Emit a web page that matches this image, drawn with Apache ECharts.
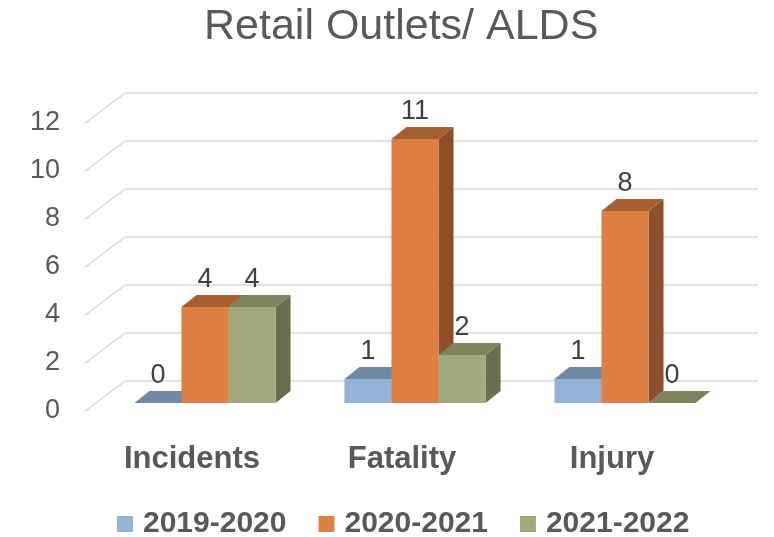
<!DOCTYPE html>
<html>
<head>
<meta charset="utf-8">
<script src="https://cdn.jsdelivr.net/npm/echarts@6/dist/echarts.min.js"></script>
<style>
  html, body { margin: 0; padding: 0; background: #fff; }
  #main { width: 774px; height: 537px; }
</style>
</head>
<body>
<div id="main"></div>
<script>
var categories = ['Incidents', 'Fatality', 'Injury'];
var seriesNames = ['2019-2020', '2020-2021', '2021-2022'];
var values2019 = [0, 1, 1];
var values2020 = [4, 11, 8];
var values2021 = [4, 2, 0];
var yTicks = [0, 2, 4, 6, 8, 10, 12];

(function () {
    'use strict';

    var textColor = '#595959';
    var font = '"Liberation Sans", Arial, sans-serif';
    // front, top, side faces
    var faces = [
        ['#95b3d7', '#6e8aa4', '#5f7891'],
        ['#de8044', '#a6602f', '#8c4f29'],
        ['#a4a97c', '#7f845f', '#6a6e50']
    ];
    var allValues = [values2019, values2020, values2021];
    var depthX = 15, depthY = -12;

    function barRenderer(idx) {
        return function (params, api) {
            var cat = api.value(0);
            var val = api.value(1);
            var base = api.coord([cat, 0]);
            var top = api.coord([cat, val]);
            var band = api.size([1, 0])[0];
            var bw = band * 0.224;
            var x0 = base[0] - 1.5 * bw + idx * bw;
            var x1 = x0 + bw;
            var y0 = base[1], y1 = top[1];
            var c = faces[idx];
            return {
                type: 'group',
                children: [
                    {
                        type: 'polygon',
                        shape: { points: [[x1, y0], [x1 + depthX, y0 + depthY], [x1 + depthX, y1 + depthY], [x1, y1]] },
                        style: { fill: c[2] }
                    },
                    {
                        type: 'rect',
                        shape: { x: x0, y: y1, width: bw, height: y0 - y1 },
                        style: { fill: c[0] }
                    },
                    {
                        type: 'polygon',
                        shape: { points: [[x0, y1], [x1, y1], [x1 + depthX, y1 + depthY], [x0 + depthX, y1 + depthY]] },
                        style: { fill: c[1] }
                    },
                    {
                        type: 'text',
                        style: {
                            text: String(val),
                            x: (x0 + x1) / 2,
                            y: y1 - 27,
                            align: 'center',
                            verticalAlign: 'middle',
                            fill: '#404040',
                            font: '27px ' + font
                        }
                    }
                ]
            };
        };
    }

    var series = seriesNames.map(function (name, i) {
        return {
            name: name,
            type: 'custom',
            xAxisIndex: 0,
            yAxisIndex: 0,
            itemStyle: { color: faces[i][0] },
            renderItem: barRenderer(i),
            data: allValues[i].map(function (v, k) { return [k, v]; }),
            z: 10 + i
        };
    });

    // diagonal floor-to-wall lines at each tick
    series.push({
        type: 'custom',
        xAxisIndex: 1,
        yAxisIndex: 1,
        silent: true,
        renderItem: function (params, api) {
            var p = api.coord([0, api.value(0)]);
            return {
                type: 'line',
                shape: { x1: p[0], y1: p[1], x2: p[0] - 40, y2: p[1] + 30 },
                style: { stroke: '#d9d9d9', lineWidth: 1.5 }
            };
        },
        data: yTicks.map(function (t) { return [t]; }),
        encode: { y: 0 },
        z: 1
    });

    var myChart = echarts.init(document.getElementById('main'));
    var option = {
        backgroundColor: '#fff',
        animation: false,
        title: {
            text: 'Retail Outlets/ ALDS',
            left: 199,
            top: 1,
            textStyle: { fontFamily: font, fontSize: 43, fontWeight: 'normal', color: textColor }
        },
        legend: {
            data: seriesNames.map(function (n) { return { name: n, icon: 'rect' }; }),
            top: 504,
            left: 112,
            itemWidth: 16,
            itemHeight: 16,
            itemGap: 32,
            textStyle: {
                fontFamily: font, fontSize: 30, fontWeight: 'bold', color: textColor,
                padding: [0, 0, 0, 5]
            }
        },
        grid: [
            // front plane of bars
            { left: 100, right: 44, top: 115, bottom: 134 },
            // back wall
            { left: 125, right: 16, top: 93, bottom: 156 },
            // floor front edge: labels
            { left: 87, right: 57, top: 123, bottom: 126 }
        ],
        xAxis: [
            { type: 'category', gridIndex: 0, data: categories, show: false },
            { type: 'value', gridIndex: 1, min: 0, max: 1, show: false },
            {
                type: 'category', gridIndex: 2, data: categories,
                axisLine: { show: false }, axisTick: { show: false },
                axisLabel: { margin: 33, fontFamily: font, fontSize: 31, fontWeight: 'bold', color: textColor }
            }
        ],
        yAxis: [
            { type: 'value', gridIndex: 0, min: 0, max: 12, interval: 2, show: false },
            {
                type: 'value', gridIndex: 1, min: 0, max: 12, interval: 2,
                axisLine: { show: false }, axisTick: { show: false }, axisLabel: { show: false },
                splitLine: { lineStyle: { color: '#d9d9d9', width: 1.5 } }
            },
            {
                type: 'value', gridIndex: 2, min: 0, max: 12, interval: 2,
                axisLine: { show: false }, axisTick: { show: false },
                splitLine: { show: false },
                axisLabel: { margin: 27, fontFamily: font, fontSize: 27, color: textColor }
            }
        ],
        series: series
    };
    myChart.setOption(option);
})();
</script>
</body>
</html>
